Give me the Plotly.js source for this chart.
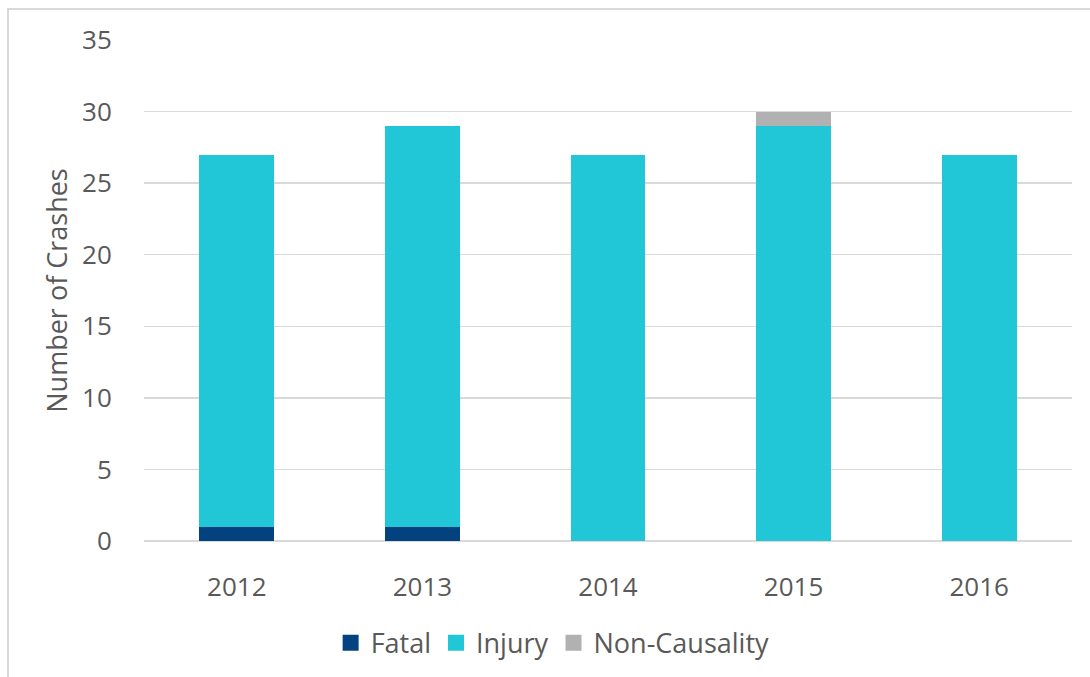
<!DOCTYPE html>
<html>
<head>
<meta charset="utf-8">
<script src="https://cdn.plot.ly/plotly-3.0.1.min.js"></script>
<style>
  html, body { margin: 0; padding: 0; background: #fff; }
  #chart { width: 1090px; height: 677px; position: relative; }
  #frame { position: absolute; left: 7px; top: 8px; right: -10px; bottom: -10px;
           border-left: 2px solid #d9d9d9; border-top: 2px solid #d9d9d9; pointer-events: none; }
</style>
</head>
<body>
<div id="chart"></div>
<div id="frame"></div>
<script>
const years = ['2012', '2013', '2014', '2015', '2016'];
const fatal = [1, 1, 0, 0, 0];
const injury = [26, 28, 27, 29, 27];
const nonCausality = [0, 0, 0, 1, 0];
const yTicks = [0, 5, 10, 15, 20, 25, 30, 35];

const seriesNames = ['Fatal', 'Injury', 'Non-Causality'];
const seriesValues = [fatal, injury, nonCausality];
const seriesColors = ['#03427f', '#22c7d7', '#b1b1b1'];

const traces = [];
seriesNames.forEach((name, i) => {
  traces.push({
    type: 'bar', name: name, x: years, y: seriesValues[i],
    marker: { color: seriesColors[i], line: { width: 0 } },
    showlegend: false, hoverinfo: 'x+y+name'
  });
});
// legend entries (square markers)
seriesNames.forEach((name, i) => {
  traces.push({
    type: 'scatter', mode: 'markers', name: name, x: [null], y: [null],
    marker: { symbol: 'square', size: 16, color: seriesColors[i] },
    showlegend: true, hoverinfo: 'skip'
  });
});

const font = { family: '"Open Sans", "Noto Sans", sans-serif', color: '#595959' };

const layout = {
  width: 1090, height: 677,
  margin: { l: 144, r: 18, t: 40, b: 136 },
  paper_bgcolor: '#ffffff', plot_bgcolor: '#ffffff',
  barmode: 'stack', bargap: 0.596,
  font: Object.assign({ size: 26 }, font),
  xaxis: {
    type: 'category', showgrid: false, zeroline: false, showline: false,
    ticks: 'outside', ticklen: 23, tickcolor: 'rgba(0,0,0,0)',
    tickfont: Object.assign({ size: 26 }, font)
  },
  yaxis: {
    range: [0, 35], tickvals: yTicks, showgrid: true, gridcolor: '#d9d9d9', gridwidth: 1.5,
    zeroline: true, zerolinecolor: '#d9d9d9', zerolinewidth: 1.5, showline: false,
    ticks: 'outside', ticklen: 26, tickcolor: 'rgba(0,0,0,0)',
    tickfont: Object.assign({ size: 26 }, font),
    title: { text: 'Number of Crashes', font: Object.assign({ size: 27 }, font), standoff: 6 }
  },
  legend: {
    orientation: 'h', xref: 'container', yref: 'container',
    x: 0.507, xanchor: 'center', y: 0.05, yanchor: 'middle',
    font: Object.assign({ size: 27 }, font), itemsizing: 'trace', traceorder: 'normal'
  },
  showlegend: true
};

Plotly.newPlot('chart', traces, layout, { displayModeBar: false, staticPlot: true });
</script>
</body>
</html>
